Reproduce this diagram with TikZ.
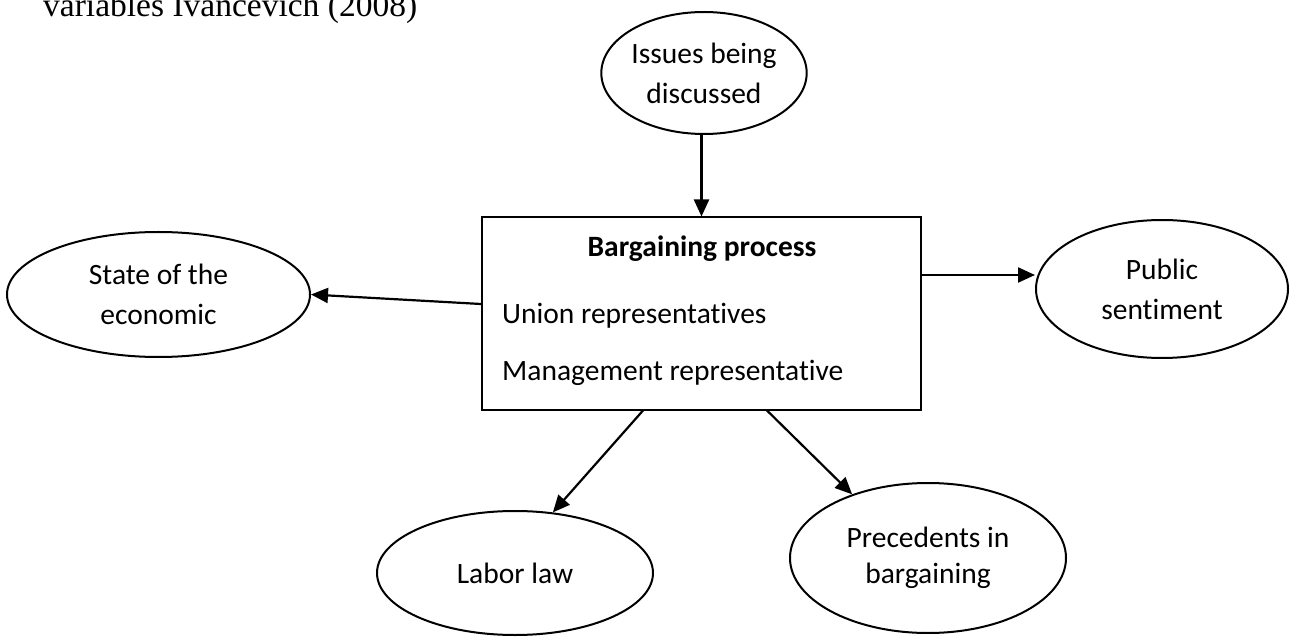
\documentclass[tikz,border=0pt]{standalone}
\usepackage{fontspec}
\setmainfont{Carlito}[Ligatures=NoCommon]
\newfontfamily\serifcap{Liberation Serif}
\usetikzlibrary{shapes.geometric,arrows.meta}
\begin{document}
\begin{tikzpicture}[x=1pt,y=-1pt,
  oval/.style={draw,ellipse,line width=2pt,inner sep=0pt,align=center,
    font=\fontsize{29.5}{40}\selectfont},
  boxstyle/.style={draw,rectangle,line width=2pt,inner sep=0pt},
  txt/.style={inner sep=0pt,font=\fontsize{29.5}{34}\selectfont},
  arr/.style={line width=2.2pt,-{Triangle[length=17pt,width=15pt]}}]
\useasboundingbox (0,0) rectangle (1296,644);
\node[inner sep=0pt,anchor=base west,font=\serifcap\fontsize{33.5}{38}\selectfont] (cap) at (43,17) {variables Ivancevich (2008)};
\node[boxstyle,minimum width=439pt,minimum height=192pt] (box) at (701.5,313.5) {};
\node[txt,anchor=base,font=\bfseries\fontsize{29.5}{34}\selectfont] (bt) at (702,257) {Bargaining process};
\node[txt,anchor=base west] (u) at (502,324) {Union representatives};
\node[txt,anchor=base west] (m) at (502,380) {Management representative};
\node[oval,minimum width=164pt,minimum height=122pt] (issues) at (704,73) {Issues being\\discussed};
\node[oval,minimum width=303pt,minimum height=125pt] (state) at (158.5,294.5) {State of the\\economic};
\node[oval,minimum width=252pt,minimum height=138pt] (pub) at (1162,289) {Public\\sentiment};
\node[oval,minimum width=276pt,minimum height=124pt] (labor) at (515,573) {Labor law};
\node[oval,minimum width=276pt,minimum height=150pt,font=\fontsize{29.5}{36}\selectfont] (prec) at (928,558) {Precedents in\\bargaining};
\draw[arr] (issues.south -| box.north) -- (box.north);
\draw[arr] (box.west |- 0,304) -- (state.east);
\draw[arr] (box.east |- 0,275) -- (pub.west |- 0,275);
\draw[arr] (box.south -| 643,0) -- (labor.58);
\draw[arr] (box.south -| 767,0) -- (prec.140);
\end{tikzpicture}
\end{document}
